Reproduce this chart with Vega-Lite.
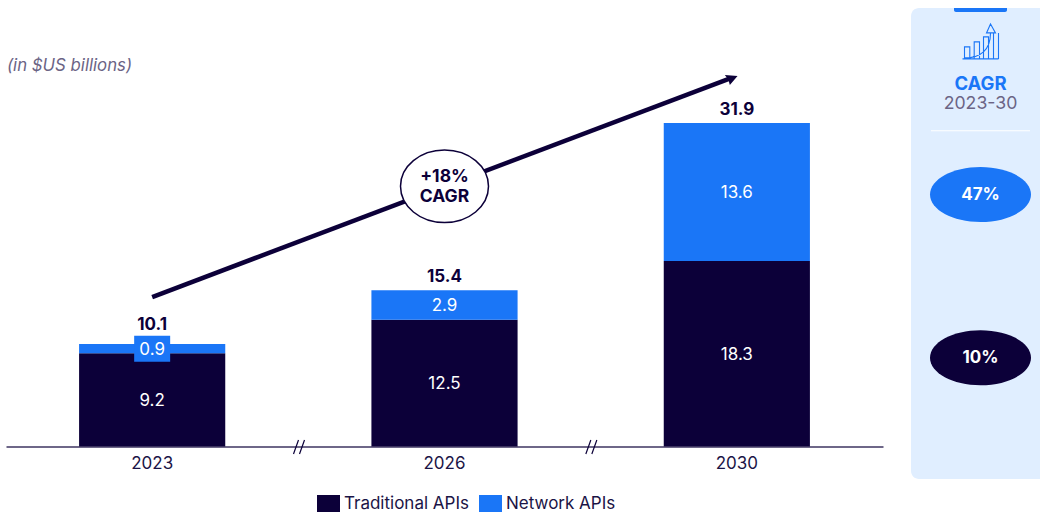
{
  "$schema": "https://vega.github.io/schema/vega-lite/v6.json",
  "width": 1040,
  "height": 512,
  "autosize": {"type": "fit", "contains": "padding"},
  "padding": 0,
  "background": "white",
  "config": {"font": "Inter", "view": {"stroke": null}},
  "datasets": {
    "apis": [
      {"year": "2023", "series": "Traditional APIs", "rank": 1, "value": 9.2},
      {"year": "2023", "series": "Network APIs", "rank": 2, "value": 0.9},
      {"year": "2026", "series": "Traditional APIs", "rank": 1, "value": 12.5},
      {"year": "2026", "series": "Network APIs", "rank": 2, "value": 2.9},
      {"year": "2030", "series": "Traditional APIs", "rank": 1, "value": 18.3},
      {"year": "2030", "series": "Network APIs", "rank": 2, "value": 13.6}
    ],
    "totals": [
      {"year": "2023", "total": 10.1},
      {"year": "2026", "total": 15.4},
      {"year": "2030", "total": 31.9}
    ],
    "trend": [
      {"year": "2023", "level": 14.74},
      {"year": "2030", "level": 36.55}
    ]
  },
  "layer": [
    {
      "layer": [
        {
          "data": {"name": "apis"},
          "mark": {"type": "bar"},
          "encoding": {
            "x": {
              "field": "year",
              "type": "nominal",
              "title": null,
              "scale": {"domain": ["2023", "2026", "2030"], "range": [6, 883], "paddingInner": 0.5, "paddingOuter": 0.25},
              "axis": {
                "offset": -65.5,
                "labelAngle": 0,
                "ticks": false,
                "labelPadding": 9,
                "labelFontSize": 17,
                "labelColor": "#1b1446",
                "domainColor": "#3e3560",
                "domainWidth": 1.5,
                "grid": false
              }
            },
            "y": {
              "field": "value",
              "type": "quantitative",
              "stack": "zero",
              "title": "(in $US billions)",
              "scale": {"domain": [0, 44], "range": [446.5, 0.34]},
              "axis": {
                "domain": false,
                "ticks": false,
                "labels": false,
                "grid": false,
                "titleAngle": 0,
                "titleX": 6.5,
                "titleY": 65,
                "titleAlign": "left",
                "titleBaseline": "middle",
                "titleFontSize": 16.8,
                "titleFontStyle": "italic",
                "titleFontWeight": "normal",
                "titleColor": "#6b6485"
              }
            },
            "color": {
              "field": "series",
              "type": "nominal",
              "title": null,
              "scale": {"domain": ["Traditional APIs", "Network APIs"], "range": ["#0c0039", "#1a76f7"]},
              "legend": {
                "orient": "none",
                "direction": "horizontal",
                "legendX": 320,
                "legendY": 495,
                "symbolType": "M-1.35,-1H1.35V1H-1.35Z",
                "symbolSize": 289,
                "symbolStrokeWidth": 0,
                "symbolOpacity": 1,
                "labelFontSize": 17,
                "labelColor": "#1b1446",
                "labelOffset": 7,
                "columnPadding": 10
              }
            },
            "order": {"field": "rank"}
          }
        },
        {
          "data": {"values": [{"year": "2023", "level": 9.65}]},
          "mark": {"type": "point", "size": 4, "filled": true, "opacity": 1, "color": "#1a76f7", "shape": "M-18,-13H18V13H-18Z"},
          "encoding": {
            "x": {"field": "year", "type": "nominal", "axis": null, "scale": {"domain": ["2023", "2026", "2030"], "range": [6, 883], "paddingInner": 0.5, "paddingOuter": 0.25}},
            "y": {"field": "level", "type": "quantitative", "axis": null, "scale": {"domain": [0, 44], "range": [446.5, 0.34]}}
          }
        },
        {
          "data": {"name": "apis"},
          "mark": {"type": "text", "color": "#ffffff", "fontSize": 17, "dy": 1},
          "encoding": {
            "x": {"field": "year", "type": "nominal", "axis": null, "scale": {"domain": ["2023", "2026", "2030"], "range": [6, 883], "paddingInner": 0.5, "paddingOuter": 0.25}},
            "y": {"field": "value", "type": "quantitative", "stack": "zero", "bandPosition": 0.5, "axis": null, "scale": {"domain": [0, 44], "range": [446.5, 0.34]}},
            "detail": {"field": "series"},
            "order": {"field": "rank"},
            "text": {"field": "value", "type": "quantitative", "format": ".1f"}
          }
        },
        {
          "data": {"name": "totals"},
          "transform": [{"filter": "datum.year != '2023'"}],
          "mark": {"type": "text", "color": "#0c0039", "fontSize": 17, "fontWeight": "bold", "dy": -13},
          "encoding": {
            "x": {"field": "year", "type": "nominal", "axis": null, "scale": {"domain": ["2023", "2026", "2030"], "range": [6, 883], "paddingInner": 0.5, "paddingOuter": 0.25}},
            "y": {"field": "total", "type": "quantitative", "axis": null, "scale": {"domain": [0, 44], "range": [446.5, 0.34]}},
            "text": {"field": "total", "type": "quantitative", "format": ".1f"}
          }
        },
        {
          "data": {"name": "totals"},
          "transform": [{"filter": "datum.year == '2023'"}],
          "mark": {"type": "text", "color": "#0c0039", "fontSize": 17, "fontWeight": "bold", "dy": -19},
          "encoding": {
            "x": {"field": "year", "type": "nominal", "axis": null, "scale": {"domain": ["2023", "2026", "2030"], "range": [6, 883], "paddingInner": 0.5, "paddingOuter": 0.25}},
            "y": {"field": "total", "type": "quantitative", "axis": null, "scale": {"domain": [0, 44], "range": [446.5, 0.34]}},
            "text": {"field": "total", "type": "quantitative", "format": ".1f"}
          }
        },
        {
          "data": {"name": "trend"},
          "mark": {"type": "line", "color": "#0c0039", "strokeWidth": 4.5, "strokeDash": [618, 60]},
          "encoding": {
            "x": {"field": "year", "type": "nominal", "axis": null, "scale": {"domain": ["2023", "2026", "2030"], "range": [6, 883], "paddingInner": 0.5, "paddingOuter": 0.25}},
            "y": {"field": "level", "type": "quantitative", "axis": null, "scale": {"domain": [0, 44], "range": [446.5, 0.34]}}
          }
        },
        {
          "data": {"values": [{"year": "2030", "level": 36.55}]},
          "mark": {"type": "point", "size": 4, "filled": true, "opacity": 1, "color": "#0c0039", "shape": "M0.7,0L-12,-1L-8.5,3.5L-7,9Z"},
          "encoding": {
            "x": {"field": "year", "type": "nominal", "axis": null, "scale": {"domain": ["2023", "2026", "2030"], "range": [6, 883], "paddingInner": 0.5, "paddingOuter": 0.25}},
            "y": {"field": "level", "type": "quantitative", "axis": null, "scale": {"domain": [0, 44], "range": [446.5, 0.34]}}
          }
        },
        {
          "data": {"values": [{"year": "2026", "level": 25.66}]},
          "mark": {"type": "point", "size": 4, "filled": true, "opacity": 1, "fill": "#ffffff", "stroke": "#0c0039", "strokeWidth": 1.5, "shape": "M-44,0A44,36.3 0 1,0 44,0A44,36.3 0 1,0 -44,0Z"},
          "encoding": {
            "x": {"field": "year", "type": "nominal", "axis": null, "scale": {"domain": ["2023", "2026", "2030"], "range": [6, 883], "paddingInner": 0.5, "paddingOuter": 0.25}},
            "y": {"field": "level", "type": "quantitative", "axis": null, "scale": {"domain": [0, 44], "range": [446.5, 0.34]}}
          }
        },
        {
          "data": {"values": [{"year": "2026", "level": 25.66, "label": "+18%|CAGR"}]},
          "mark": {"type": "text", "color": "#0c0039", "fontSize": 17.5, "fontWeight": "bold", "lineBreak": "|", "lineHeight": 20, "dy": -9},
          "encoding": {
            "x": {"field": "year", "type": "nominal", "axis": null, "scale": {"domain": ["2023", "2026", "2030"], "range": [6, 883], "paddingInner": 0.5, "paddingOuter": 0.25}},
            "y": {"field": "level", "type": "quantitative", "axis": null, "scale": {"domain": [0, 44], "range": [446.5, 0.34]}},
            "text": {"field": "label"}
          }
        },
        {
          "data": {"values": [{"year": "2026", "level": 0}, {"year": "2030", "level": 0}]},
          "mark": {"type": "point", "size": 4, "filled": false, "opacity": 1, "stroke": "#0c0039", "strokeWidth": 1.2, "shape": "M-151,7.5L-146,-6.5M-145,7.5L-140,-6.5"},
          "encoding": {
            "x": {"field": "year", "type": "nominal", "axis": null, "scale": {"domain": ["2023", "2026", "2030"], "range": [6, 883], "paddingInner": 0.5, "paddingOuter": 0.25}},
            "y": {"field": "level", "type": "quantitative", "axis": null, "scale": {"domain": [0, 44], "range": [446.5, 0.34]}}
          }
        }
      ],
      "resolve": {"axis": {"y": "independent", "x": "independent"}}
    },
    {
      "layer": [
        {
          "data": {"values": [{"panel": "CAGR", "low": -3.2, "high": 43.24}]},
          "mark": {"type": "bar", "color": "#e0eeff", "cornerRadius": 8, "clip": true},
          "encoding": {
            "x": {"field": "panel", "type": "nominal", "axis": null, "scale": {"range": [911, 1050], "paddingInner": 0, "paddingOuter": 0}},
            "y": {"field": "low", "type": "quantitative", "axis": null, "scale": {"domain": [0, 44], "range": [446.5, 0.34]}},
            "y2": {"field": "high"}
          }
        },
        {
          "data": {"values": [{"panel": "CAGR", "low": 42.85, "high": 43.24}]},
          "mark": {"type": "bar", "color": "#1a76f7", "width": 53, "cornerRadiusBottomLeft": 3, "cornerRadiusBottomRight": 3},
          "encoding": {
            "x": {"field": "panel", "type": "nominal", "axis": null, "scale": {"range": [911, 1050], "paddingInner": 0, "paddingOuter": 0}},
            "y": {"field": "low", "type": "quantitative", "axis": null, "scale": {"domain": [0, 44], "range": [446.5, 0.34]}},
            "y2": {"field": "high"}
          }
        },
        {
          "data": {"values": [{"panel": "CAGR", "low": 31.08, "high": 31.2}]},
          "mark": {"type": "bar", "color": "#ffffff", "width": 99},
          "encoding": {
            "x": {"field": "panel", "type": "nominal", "axis": null, "scale": {"range": [911, 1050], "paddingInner": 0, "paddingOuter": 0}},
            "y": {"field": "low", "type": "quantitative", "axis": null, "scale": {"domain": [0, 44], "range": [446.5, 0.34]}},
            "y2": {"field": "high"}
          }
        },
        {
          "data": {"values": [{"panel": "CAGR", "level": 39.9}]},
          "mark": {
            "type": "point",
            "size": 4,
            "filled": false,
            "opacity": 1,
            "stroke": "#1a76f7",
            "strokeWidth": 1.1,
            "shape": "M-16,17V5H-10.7V17M-6.3,17V0H-1V17M3,17V-5H8V17M13,17V-9M18,-9V17M-18,17H18M-16,16C0,16 10,8 10,-9M6,-9L10,-18L15,-9Z"
          },
          "encoding": {
            "x": {"field": "panel", "type": "nominal", "axis": null, "scale": {"range": [911, 1050], "paddingInner": 0, "paddingOuter": 0}},
            "y": {"field": "level", "type": "quantitative", "axis": null, "scale": {"domain": [0, 44], "range": [446.5, 0.34]}}
          }
        },
        {
          "data": {"values": [{"panel": "CAGR", "level": 24.85}]},
          "mark": {"type": "point", "size": 4, "filled": true, "opacity": 1, "color": "#1a76f7", "shape": "M-50.5,0A50.5,27.5 0 1,0 50.5,0A50.5,27.5 0 1,0 -50.5,0Z"},
          "encoding": {
            "x": {"field": "panel", "type": "nominal", "axis": null, "scale": {"range": [911, 1050], "paddingInner": 0, "paddingOuter": 0}},
            "y": {"field": "level", "type": "quantitative", "axis": null, "scale": {"domain": [0, 44], "range": [446.5, 0.34]}}
          }
        },
        {
          "data": {"values": [{"panel": "CAGR", "level": 8.75}]},
          "mark": {"type": "point", "size": 4, "filled": true, "opacity": 1, "color": "#0c0039", "shape": "M-50.5,0A50.5,27.5 0 1,0 50.5,0A50.5,27.5 0 1,0 -50.5,0Z"},
          "encoding": {
            "x": {"field": "panel", "type": "nominal", "axis": null, "scale": {"range": [911, 1050], "paddingInner": 0, "paddingOuter": 0}},
            "y": {"field": "level", "type": "quantitative", "axis": null, "scale": {"domain": [0, 44], "range": [446.5, 0.34]}}
          }
        },
        {
          "data": {"values": [
            {"panel": "CAGR", "level": 24.85, "label": "47%"},
            {"panel": "CAGR", "level": 8.75, "label": "10%"}
          ]},
          "mark": {"type": "text", "color": "#ffffff", "fontSize": 17, "fontWeight": "bold"},
          "encoding": {
            "x": {"field": "panel", "type": "nominal", "axis": null, "scale": {"range": [911, 1050], "paddingInner": 0, "paddingOuter": 0}},
            "y": {"field": "level", "type": "quantitative", "axis": null, "scale": {"domain": [0, 44], "range": [446.5, 0.34]}},
            "text": {"field": "label"}
          }
        },
        {
          "data": {"values": [{"panel": "CAGR", "level": 35.75, "label": "CAGR"}]},
          "mark": {"type": "text", "color": "#1a76f7", "fontSize": 18.5, "fontWeight": "bold"},
          "encoding": {
            "x": {"field": "panel", "type": "nominal", "axis": null, "scale": {"range": [911, 1050], "paddingInner": 0, "paddingOuter": 0}},
            "y": {"field": "level", "type": "quantitative", "axis": null, "scale": {"domain": [0, 44], "range": [446.5, 0.34]}},
            "text": {"field": "label"}
          }
        },
        {
          "data": {"values": [{"panel": "CAGR", "level": 33.78, "label": "2023-30"}]},
          "mark": {"type": "text", "color": "#6b6485", "fontSize": 17.7},
          "encoding": {
            "x": {"field": "panel", "type": "nominal", "axis": null, "scale": {"range": [911, 1050], "paddingInner": 0, "paddingOuter": 0}},
            "y": {"field": "level", "type": "quantitative", "axis": null, "scale": {"domain": [0, 44], "range": [446.5, 0.34]}},
            "text": {"field": "label"}
          }
        }
      ],
      "resolve": {"axis": {"y": "independent", "x": "independent"}}
    }
  ],
  "resolve": {"scale": {"x": "independent"}, "axis": {"x": "independent", "y": "independent"}}
}
